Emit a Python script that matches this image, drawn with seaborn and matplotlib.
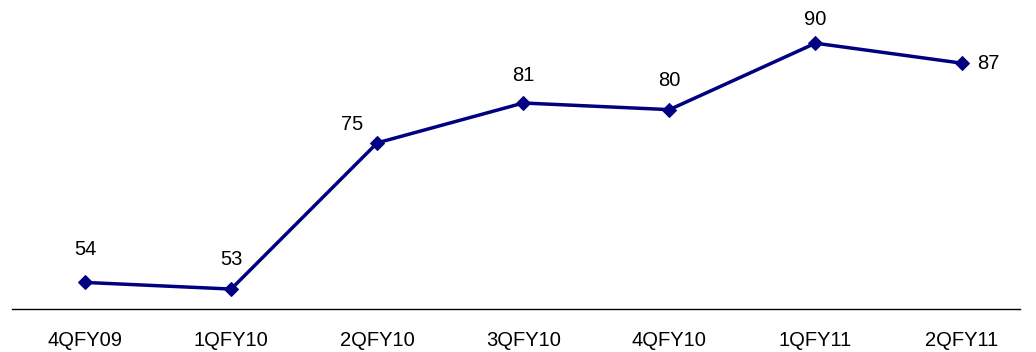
import pandas as pd
import matplotlib
matplotlib.use('Agg')
import matplotlib.pyplot as plt
import seaborn as sns

quarters = ['4QFY09', '1QFY10', '2QFY10', '3QFY10', '4QFY10', '1QFY11', '2QFY11']
values = [54, 53, 75, 81, 80, 90, 87]

sns.set_style('white')
plt.rcParams['font.family'] = ['Liberation Sans', 'DejaVu Sans']
plt.rcParams['text.color'] = 'black'
plt.rcParams['xtick.color'] = 'black'

df = pd.DataFrame({'quarter': quarters, 'value': values})
df['pos'] = range(len(df))

fig = plt.figure(figsize=(10.36, 3.52), dpi=100)
ax = fig.add_axes([12 / 1036, 43 / 352, 1008 / 1036, 309 / 352])

color = '#000080'
sns.lineplot(data=df, x='pos', y='value', ax=ax, color=color, linewidth=2.5,
             marker='D', markersize=7, markeredgecolor=color, markerfacecolor=color)

# 數值標籤位置（點數偏移）
label_offsets = [(0, 24), (0, 21), (-18, 13), (0, 20), (0, 21), (0, 17), (11, 0)]
for i, v in enumerate(values):
    dx, dy = label_offsets[i]
    ax.annotate(str(v), (i, v), xytext=(dx, dy), textcoords='offset points',
                ha='center' if dx <= 0 else 'left', va='center', fontsize=14.5)

ax.set_xlim(-0.5, 6.4)
ax.set_ylim(50, 96.5)
ax.set_xticks(df['pos'])
ax.set_xticklabels(quarters, fontsize=14.5)
ax.set_yticks([])
ax.set_xlabel('')
ax.set_ylabel('')
ax.tick_params(axis='x', length=0, pad=16)
for side in ['top', 'right', 'left']:
    ax.spines[side].set_visible(False)
ax.spines['bottom'].set_color('black')
ax.spines['bottom'].set_linewidth(1)

fig.savefig('out.png', dpi=100)
